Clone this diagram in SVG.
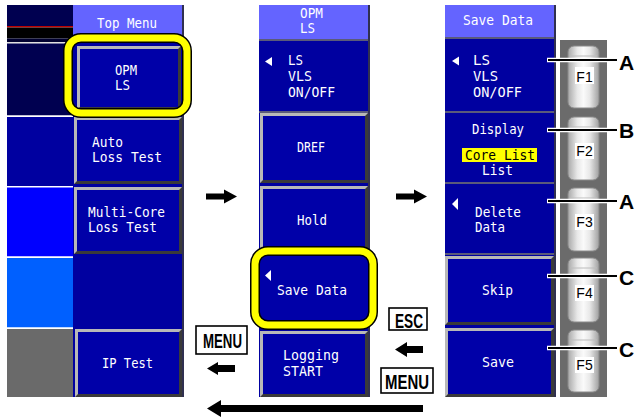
<svg xmlns="http://www.w3.org/2000/svg" width="635" height="417" viewBox="0 0 635 417">
  <defs>
    <style>
      .t { font-family: "DejaVu Sans Mono", "Liberation Mono", monospace; font-size: 14.5px; fill: #ffffff; }
      .tk { font-family: "DejaVu Sans Mono", "Liberation Mono", monospace; font-size: 14.5px; fill: #000000; }
      .hdr { fill: #6464ff; }
      .face { fill: #0000a8; }
      .dk { fill: #3a3a3a; }
      .lt { fill: #b8b8b8; }
      .sep { fill: #5a5a7a; }
      .frame-o { fill: none; stroke: #000000; stroke-width: 10; }
      .frame-i { fill: none; stroke: #ffff00; stroke-width: 7; }
      .box { fill: #ffffff; stroke: #000000; stroke-width: 1.6; }
      .bt { font-family: "Liberation Sans", Arial, sans-serif; font-weight: bold; font-size: 21px; fill: #000000; }
      .key { fill: url(#keyGrad); stroke: #8a8a8a; stroke-width: 1; }
      .keytop { fill: none; stroke: #bcbcbc; stroke-width: 1; }
      .kl { font-family: "Liberation Sans", Arial, sans-serif; font-size: 14px; fill: #000000; }
      .tri { fill: #ffffff; }
      .halo { stroke: #ffffff; stroke-width: 4.5; fill: none; }
      .lead { stroke: #000000; stroke-width: 2; fill: none; }
      .arrow { fill: #000000; }
    </style>
    <linearGradient id="keyGrad" x1="0" y1="0" x2="1" y2="0">
      <stop offset="0" stop-color="#a8a8a8"/>
      <stop offset="0.3" stop-color="#e8e8e8"/>
      <stop offset="0.5" stop-color="#fafafa"/>
      <stop offset="0.7" stop-color="#e8e8e8"/>
      <stop offset="1" stop-color="#a0a0a0"/>
    </linearGradient>
  </defs>

  <rect x="0" y="0" width="635" height="417" fill="#ffffff"/>

  <!-- ===== Top Menu screen ===== -->
  <g id="top-menu">
    <!-- left status column -->
    <rect x="7" y="5" width="66" height="22" fill="#000050"/>
    <rect x="7" y="26" width="66" height="1.5" fill="#c00000"/>
    <rect x="7" y="27.5" width="66" height="11" fill="#000000"/>
    <rect x="7" y="38.5" width="66" height="4" fill="#000030"/>
    <rect x="7" y="42" width="66" height="1.5" fill="#e0e0e0"/>
    <rect x="7" y="43.5" width="66" height="72" fill="#000050"/>
    <rect x="7" y="115.5" width="66" height="1.5" fill="#ffffff"/>
    <rect x="7" y="117" width="66" height="69" fill="#0000a0"/>
    <rect x="7" y="186" width="66" height="1.5" fill="#ffffff"/>
    <rect x="7" y="187.5" width="66" height="69" fill="#0000ff"/>
    <rect x="7" y="256.5" width="66" height="1.5" fill="#ffffff"/>
    <rect x="7" y="258" width="66" height="69.5" fill="#0060ff"/>
    <rect x="7" y="327.5" width="66" height="1.5" fill="#ffffff"/>
    <rect x="7" y="329" width="66" height="68" fill="#6a6a6a"/>
    <!-- soft key column -->
    <rect x="73" y="36" width="110" height="361" fill="#0000a0"/>
    <rect x="73" y="5" width="110" height="31" class="hdr"/>
    <rect x="182" y="5" width="2" height="392" fill="#303050"/>
    <text class="t" x="97" y="28" textLength="60" lengthAdjust="spacingAndGlyphs">Top Menu</text>
  </g>

  <g id="btn-opm-ls">
    <rect class="dk" x="77" y="46" width="104" height="64"/>
    <polygon class="lt" points="77,46 181,46 178,49 80,49 80,107 77,110"/>
    <rect class="face" x="80" y="49" width="98" height="58"/>
    <text class="t" x="115" y="75" textLength="22" lengthAdjust="spacingAndGlyphs">OPM</text>
    <text class="t" x="115" y="90" textLength="15" lengthAdjust="spacingAndGlyphs">LS</text>
  </g>

  <g id="btn-auto-loss">
    <rect class="dk" x="74" y="117" width="108" height="67"/>
    <polygon class="lt" points="74,117 182,117 179,120 77,120 77,181 74,184"/>
    <rect class="face" x="77" y="120" width="102" height="61"/>
    <text class="t" x="92" y="147" textLength="31" lengthAdjust="spacingAndGlyphs">Auto</text>
    <text class="t" x="92" y="162" textLength="70" lengthAdjust="spacingAndGlyphs">Loss Test</text>
  </g>

  <g id="btn-multicore">
    <rect class="dk" x="74" y="187" width="108" height="67"/>
    <polygon class="lt" points="74,187 182,187 179,190 77,190 77,251 74,254"/>
    <rect class="face" x="77" y="190" width="102" height="61"/>
    <text class="t" x="88" y="217" textLength="77" lengthAdjust="spacingAndGlyphs">Multi-Core</text>
    <text class="t" x="88" y="232" textLength="69" lengthAdjust="spacingAndGlyphs">Loss Test</text>
  </g>

  <g id="btn-ip-test">
    <rect class="dk" x="75" y="329" width="107" height="68"/>
    <polygon class="lt" points="75,329 182,329 179,332 78,332 78,394 75,397"/>
    <rect class="face" x="78" y="332" width="101" height="62"/>
    <text class="t" x="102" y="368" textLength="51" lengthAdjust="spacingAndGlyphs">IP Test</text>
  </g>

  <g id="hl-opm-ls">
    <rect class="frame-o" x="68" y="38" width="119" height="75" rx="13"/>
    <rect class="frame-i" x="68" y="38" width="119" height="75" rx="13"/>
  </g>

  <!-- ===== OPM LS screen ===== -->
  <g id="opm-menu">
    <rect x="259" y="5" width="110" height="392" fill="#0000a0"/>
    <rect x="259" y="5" width="110" height="34" class="hdr"/>
    <rect x="259" y="39" width="110" height="2" class="sep"/>
    <rect x="259" y="111" width="110" height="2" class="sep"/>
    <rect x="368" y="5" width="2" height="392" fill="#303050"/>
    <text class="t" x="300" y="18" textLength="23" lengthAdjust="spacingAndGlyphs">OPM</text>
    <text class="t" x="300" y="33" textLength="15" lengthAdjust="spacingAndGlyphs">LS</text>
  </g>

  <g id="opm-ls-toggle">
    <polygon class="tri" points="265,61.5 272,57 272,66"/>
    <text class="t" x="288" y="65" textLength="15" lengthAdjust="spacingAndGlyphs">LS</text>
    <text class="t" x="288" y="81" textLength="24" lengthAdjust="spacingAndGlyphs">VLS</text>
    <text class="t" x="288" y="97" textLength="47" lengthAdjust="spacingAndGlyphs">ON/OFF</text>
  </g>

  <g id="btn-dref">
    <rect class="dk" x="260" y="113" width="108" height="70"/>
    <polygon class="lt" points="260,113 368,113 365,116 263,116 263,180 260,183"/>
    <rect class="face" x="263" y="116" width="102" height="64"/>
    <text class="t" x="297" y="152" textLength="28" lengthAdjust="spacingAndGlyphs">DREF</text>
  </g>

  <g id="btn-hold">
    <rect class="dk" x="260" y="186" width="108" height="69"/>
    <polygon class="lt" points="260,186 368,186 365,189 263,189 263,252 260,255"/>
    <rect class="face" x="263" y="189" width="102" height="63"/>
    <text class="t" x="297" y="225" textLength="30" lengthAdjust="spacingAndGlyphs">Hold</text>
  </g>

  <g id="btn-save-data">
    <rect x="255" y="251" width="118" height="74" rx="13" fill="#0000a8"/>
    <rect class="frame-o" x="255" y="251" width="118" height="74" rx="13"/>
    <rect class="frame-i" x="255" y="251" width="118" height="74" rx="13"/>
    <polygon class="tri" points="265,275.5 271,270 271,281"/>
    <text class="t" x="277" y="295" textLength="70" lengthAdjust="spacingAndGlyphs">Save Data</text>
  </g>

  <g id="btn-logging">
    <rect class="dk" x="260" y="331" width="108" height="66"/>
    <polygon class="lt" points="260,331 368,331 365,334 263,334 263,394 260,397"/>
    <rect class="face" x="263" y="334" width="102" height="60"/>
    <text class="t" x="283" y="360" textLength="56" lengthAdjust="spacingAndGlyphs">Logging</text>
    <text class="t" x="283" y="376" textLength="40" lengthAdjust="spacingAndGlyphs">START</text>
  </g>

  <!-- ===== Save Data screen ===== -->
  <g id="save-menu">
    <rect x="445" y="5" width="110" height="392" fill="#0000a0"/>
    <rect x="445" y="5" width="110" height="32" class="hdr"/>
    <rect x="445" y="37" width="110" height="2" class="sep"/>
    <rect x="445" y="111" width="110" height="2" class="sep"/>
    <rect x="445" y="182" width="110" height="2" class="sep"/>
    <rect x="445" y="253" width="110" height="2" class="sep"/>
    <rect x="554" y="5" width="2" height="392" fill="#303050"/>
    <text class="t" x="463" y="25" textLength="70" lengthAdjust="spacingAndGlyphs">Save Data</text>
  </g>

  <g id="save-ls-toggle">
    <polygon class="tri" points="452,61 459,56.5 459,65.5"/>
    <text class="t" x="473" y="65" textLength="17" lengthAdjust="spacingAndGlyphs">LS</text>
    <text class="t" x="473" y="81" textLength="25" lengthAdjust="spacingAndGlyphs">VLS</text>
    <text class="t" x="473" y="97" textLength="49" lengthAdjust="spacingAndGlyphs">ON/OFF</text>
  </g>

  <g id="save-display">
    <text class="t" x="472" y="134" textLength="52" lengthAdjust="spacingAndGlyphs">Display</text>
    <rect x="462" y="148" width="75" height="14" fill="#ffff00"/>
    <text class="tk" x="465" y="160" textLength="70" lengthAdjust="spacingAndGlyphs">Core List</text>
    <text class="t" x="482" y="175" textLength="31" lengthAdjust="spacingAndGlyphs">List</text>
  </g>

  <g id="save-delete">
    <polygon class="tri" points="452,204 458,198 458,210"/>
    <text class="t" x="475" y="217" textLength="46" lengthAdjust="spacingAndGlyphs">Delete</text>
    <text class="t" x="475" y="232" textLength="30" lengthAdjust="spacingAndGlyphs">Data</text>
  </g>

  <g id="btn-skip">
    <rect class="dk" x="445" y="256" width="109" height="69"/>
    <polygon class="lt" points="445,256 554,256 551,259 448,259 448,322 445,325"/>
    <rect class="face" x="448" y="259" width="103" height="63"/>
    <text class="t" x="482" y="295" textLength="31" lengthAdjust="spacingAndGlyphs">Skip</text>
  </g>

  <g id="btn-save">
    <rect class="dk" x="445" y="328" width="109" height="69"/>
    <polygon class="lt" points="445,328 554,328 551,331 448,331 448,394 445,397"/>
    <rect class="face" x="448" y="331" width="103" height="63"/>
    <text class="t" x="482" y="367" textLength="32" lengthAdjust="spacingAndGlyphs">Save</text>
  </g>

  <!-- function key strip -->
  <g id="fkeys">
    <rect x="560" y="40" width="47" height="357" fill="#6b6b6b"/>
    <g id="key-f1">
      <rect class="key" x="568" y="46" width="31" height="62" rx="6"/>
      <path class="keytop" d="M570,56 H597"/>
      <rect x="575" y="67" width="19" height="17" fill="#ffffff"/>
      <text class="kl" x="584.5" y="82" text-anchor="middle">F1</text>
    </g>
    <g id="key-f2">
      <rect class="key" x="568" y="117" width="31" height="63" rx="6"/>
      <path class="keytop" d="M570,127 H597"/>
      <rect x="575" y="143" width="19" height="16" fill="#ffffff"/>
      <text class="kl" x="584.5" y="156" text-anchor="middle">F2</text>
    </g>
    <g id="key-f3">
      <rect class="key" x="568" y="188" width="31" height="63" rx="6"/>
      <path class="keytop" d="M570,198 H597"/>
      <rect x="575" y="214" width="19" height="16" fill="#ffffff"/>
      <text class="kl" x="584.5" y="227" text-anchor="middle">F3</text>
    </g>
    <g id="key-f4">
      <rect class="key" x="568" y="258" width="31" height="64" rx="6"/>
      <path class="keytop" d="M570,268 H597"/>
      <rect x="575" y="285" width="19" height="16" fill="#ffffff"/>
      <text class="kl" x="584.5" y="298" text-anchor="middle">F4</text>
    </g>
    <g id="key-f5">
      <rect class="key" x="568" y="330" width="31" height="62" rx="6"/>
      <path class="keytop" d="M570,340 H597"/>
      <rect x="575" y="357" width="19" height="16" fill="#ffffff"/>
      <text class="kl" x="584.5" y="370" text-anchor="middle">F5</text>
    </g>
  </g>

  <!-- key badges -->
  <g id="key-esc">
    <rect class="box" x="389" y="308" width="38" height="22"/>
    <text class="bt" x="395" y="327.5" textLength="28" lengthAdjust="spacingAndGlyphs">ESC</text>
  </g>
  <g id="key-menu-right">
    <rect class="box" x="381" y="368" width="52" height="25"/>
    <text class="bt" x="385" y="389" textLength="44" lengthAdjust="spacingAndGlyphs">MENU</text>
  </g>
  <g id="key-menu-left">
    <rect class="box" x="196" y="326" width="51" height="28"/>
    <text class="bt" x="203" y="348" textLength="39" lengthAdjust="spacingAndGlyphs">MENU</text>
  </g>

  <!-- callout letters -->
  <g id="callout-labels">
    <text class="bt" x="619" y="70">A</text>
    <text class="bt" x="619" y="138">B</text>
    <text class="bt" x="619" y="209">A</text>
    <text class="bt" x="619" y="285">C</text>
    <text class="bt" x="619" y="357">C</text>
  </g>

  <!-- connectors -->
  <g id="connectors">
    <path class="halo" d="M547,60 H616 M547,130 H616 M547,201 H616 M547,276 H616 M547,348 H616"/>
    <path class="lead" d="M548,60 H617 M548,130 H617 M548,201 H617 M548,276 H617 M548,348 H617"/>
    <!-- flow arrows between screens -->
    <polygon class="arrow" points="206,193.5 224,193.5 224,189.5 237,196.5 224,203.5 224,199.5 206,199.5"/>
    <polygon class="arrow" points="396,193.5 414,193.5 414,189.5 427,196.5 414,203.5 414,199.5 396,199.5"/>
    <!-- return arrows -->
    <polygon class="arrow" points="395,349.5 407,342 407,346 423,346 423,353 407,353 407,357"/>
    <polygon class="arrow" points="207,368.5 218,362 218,365 235,365 235,372 218,372 218,375"/>
    <polygon class="arrow" points="207,408.5 221,400 221,405 423,405 423,412 221,412 221,417"/>
  </g>
</svg>
